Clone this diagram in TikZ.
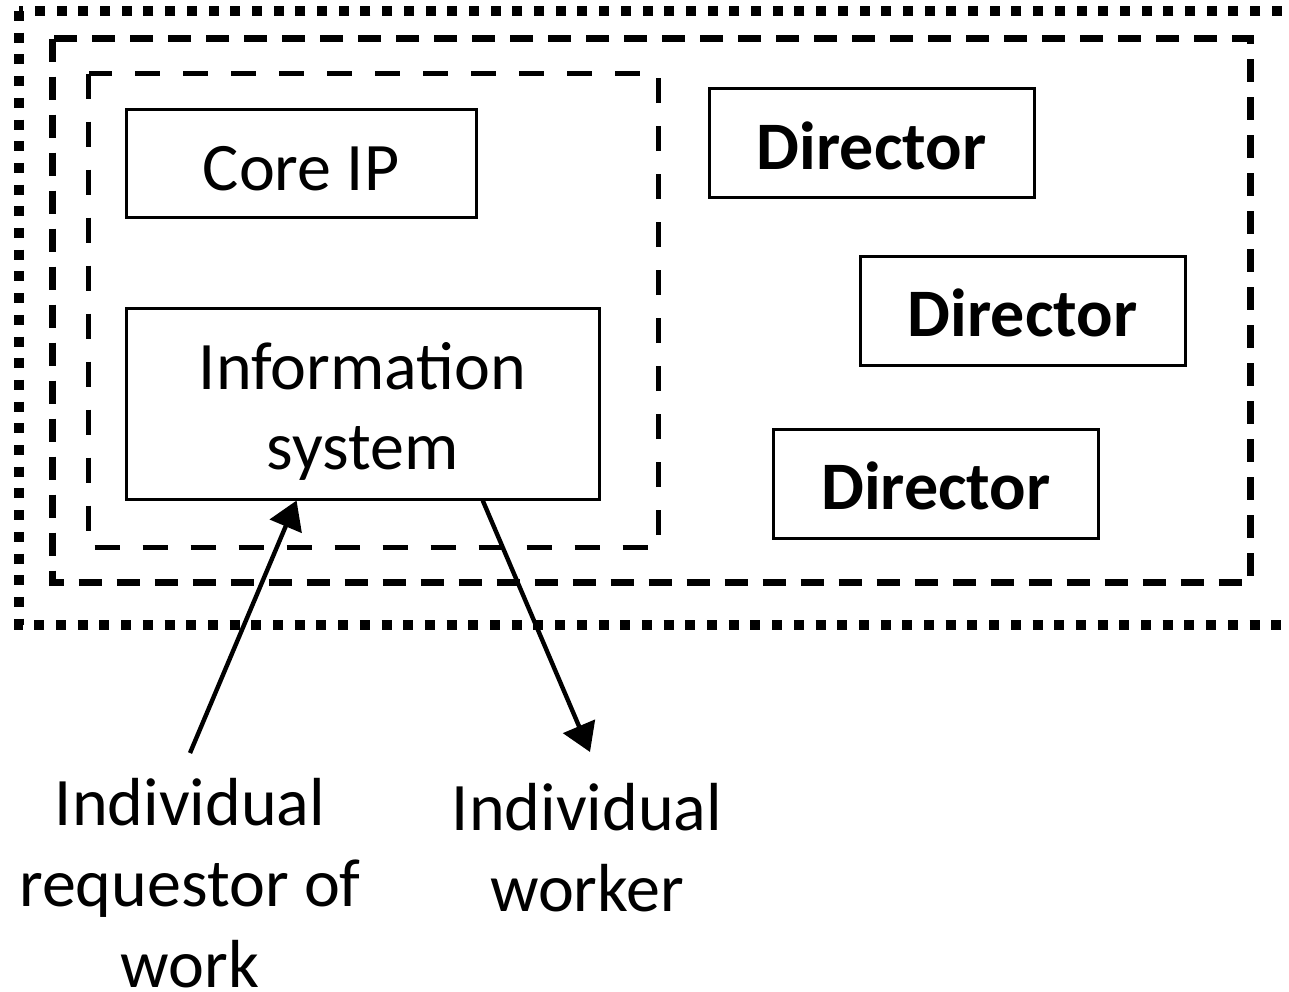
\documentclass[tikz,border=0pt]{standalone}
\usepackage{fontspec}
\setmainfont{Carlito}
\usetikzlibrary{arrows.meta,calc}
\tikzset{
  outerdots/.style={line width=5pt, dash pattern=on 5pt off 5.85pt},
  middash/.style={line width=3.5pt, dash pattern=on 11.5pt off 7.5pt},
  innerdash/.style={line width=2.5pt, dash pattern=on 12.5pt off 11.5pt},
  box/.style={draw, line width=1.5pt, inner sep=0pt, align=center, font=\fontsize{34}{40}\selectfont},
  dirbox/.style={box, minimum width=162.5pt, minimum height=54.5pt, text height=29pt, text depth=3pt, font=\fontsize{34}{40}\selectfont\bfseries},
  lbl/.style={inner sep=0pt, align=center, font=\fontsize{34}{40.5}\selectfont},
  arr/.style={line width=2.2pt, -{Triangle[length=14pt,width=17pt]}}
}
\begin{document}
\begin{tikzpicture}[x=0.5pt,y=-0.5pt]
\useasboundingbox (0,0) rectangle (1289,991);
% nested boundaries
\draw[outerdots] (19,11) rectangle (1295,625);
\draw[middash] (52,38.5) rectangle (1250,582);
\draw[innerdash] (88.5,73.5) rectangle (658,547.5);
% boxes
\node[box, minimum width=175pt, minimum height=54pt, text height=30pt, text depth=3pt] (core) at (301,163.5) {Core IP};
\node[box, minimum width=236.5pt, minimum height=95.5pt] (info) at (362.5,403.5) {\rule{0pt}{31pt}Information\\system};
\node[dirbox] (d1) at (871.5,143) {Director};
\node[dirbox] (d2) at (1022.5,310.5) {Director};
\node[dirbox] (d3) at (936,483.5) {Director};
% labels
\node[lbl, anchor=north] (req) at (190,778) {Individual\\requestor of\\work};
\node[lbl, anchor=north] (wrk) at (587,783) {Individual\\worker};
% connectors
\coordinate (reqtop) at (190,753);
\coordinate (wrktop) at (590,752);
\draw[arr] (reqtop) -- ($(info.south west)!0.3615!(info.south east)$);
\draw[arr] ($(info.south west)!0.7526!(info.south east)$) -- (wrktop);
\end{tikzpicture}
\end{document}
